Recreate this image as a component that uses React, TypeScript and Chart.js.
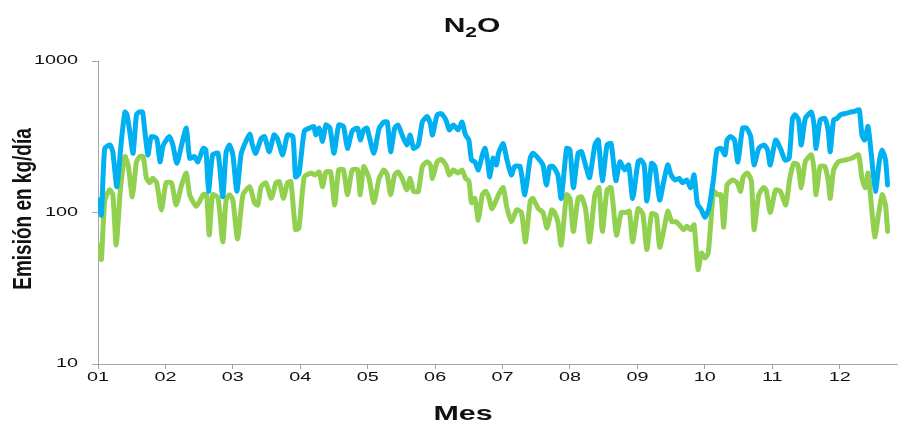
import React, { useEffect, useRef } from 'react';
import { Chart, registerables } from 'chart.js';

Chart.register(...registerables);

const chartTitle = 'N₂O';
const xTitle = 'Mes';
const yTitle = 'Emisión en kg/día';
const monthTickValues = [1, 2, 3, 4, 5, 6, 7, 8, 9, 10, 11, 12];
const monthTickLabels = ['01', '02', '03', '04', '05', '06', '07', '08', '09', '10', '11', '12'];
const yTickValues = [10, 100, 1000];
const yTickLabels = ['10', '100', '1000'];

// blue series (position in months, kg/día)
const blueMonths = [
  1.02, 1.05, 1.10, 1.18, 1.22, 1.28, 1.35, 1.40, 1.43, 1.47, 1.52, 1.57, 1.61, 1.66, 1.69, 1.74, 1.79, 1.87, 1.92, 1.97,
  2.06, 2.11, 2.17, 2.24, 2.31, 2.36, 2.43, 2.48, 2.56, 2.60, 2.64, 2.70, 2.78, 2.85, 2.90, 2.95,
  3.00, 3.06, 3.12, 3.17, 3.25, 3.29, 3.34, 3.42, 3.47, 3.54, 3.61, 3.66, 3.74, 3.81, 3.89, 3.93, 3.98,
  4.06, 4.13, 4.20, 4.23, 4.28, 4.33, 4.38, 4.44, 4.50, 4.57, 4.64, 4.70, 4.77, 4.85, 4.89, 4.94, 4.99,
  5.09, 5.17, 5.24, 5.29, 5.34, 5.40, 5.45, 5.51, 5.58, 5.63, 5.68, 5.75, 5.81, 5.88, 5.93, 5.96,
  6.03, 6.09, 6.16, 6.21, 6.27, 6.34, 6.40, 6.45, 6.50, 6.54, 6.59, 6.64, 6.70, 6.74, 6.78, 6.81, 6.86, 6.91, 6.94,
  7.01, 7.06, 7.13, 7.18, 7.26, 7.33, 7.41, 7.45, 7.53, 7.60, 7.65, 7.70, 7.75, 7.82, 7.87, 7.95,
  8.00, 8.05, 8.12, 8.17, 8.23, 8.29, 8.37, 8.42, 8.48, 8.55, 8.61, 8.68, 8.74, 8.81, 8.87, 8.93,
  9.01, 9.05, 9.10, 9.14, 9.21, 9.26, 9.33, 9.39, 9.45, 9.50, 9.56, 9.62, 9.67, 9.73, 9.79, 9.84, 9.89, 9.95,
  10.00, 10.06, 10.13, 10.18, 10.24, 10.30, 10.33, 10.38, 10.44, 10.49, 10.56, 10.62, 10.68, 10.73, 10.80, 10.88, 10.93, 10.97,
  11.05, 11.12, 11.19, 11.25, 11.30, 11.34, 11.39, 11.43, 11.49, 11.58, 11.62, 11.65, 11.71, 11.78, 11.83, 11.86, 11.91, 11.96,
  12.01, 12.08, 12.16, 12.22, 12.29, 12.33, 12.37, 12.42, 12.47, 12.53, 12.59, 12.63, 12.68, 12.71,
];
const blueValues = [
  121, 96, 265, 279, 250, 148, 308, 460, 441, 345, 246, 441, 460, 460, 360, 240, 317, 308, 216, 279,
  317, 279, 211, 279, 360, 228, 234, 216, 265, 259, 138, 240, 246, 127, 250, 279,
  240, 138, 240, 279, 330, 279, 246, 308, 317, 252, 325, 308, 240, 325, 317, 172, 180,
  345, 360, 370, 325, 360, 295, 378, 360, 246, 378, 370, 265, 345, 360, 301, 350, 360,
  246, 360, 395, 395, 252, 360, 378, 325, 279, 325, 265, 279, 395, 430, 385, 325,
  441, 450, 408, 351, 378, 351, 395, 325, 301, 222, 216, 191, 240, 265, 216, 172, 228, 206, 246,
  285, 228, 177, 201, 201, 131, 228, 246, 228, 206, 152, 201, 201, 177, 124, 265,
  259, 146, 246, 252, 206, 170, 279, 301, 162, 279, 285, 162, 216, 191, 206, 124,
  216, 222, 206, 119, 211, 201, 121, 160, 206, 177, 164, 168, 157, 164, 146, 177, 114, 104,
  93, 106, 168, 259, 265, 240, 301, 317, 301, 216, 360, 360, 317, 206, 265, 279, 259, 206,
  301, 265, 222, 228, 418, 441, 408, 279, 418, 460, 378, 265, 408, 418, 345, 252, 408, 418,
  441, 450, 460, 465, 475, 325, 301, 370, 240, 138, 222, 259, 222, 152,
];

// green series (position in months, kg/día)
const greenMonths = [
  1.02, 1.05, 1.10, 1.17, 1.22, 1.27, 1.33, 1.40, 1.45, 1.51, 1.57, 1.62, 1.67, 1.72, 1.77, 1.81, 1.87, 1.94,
  2.01, 2.09, 2.16, 2.24, 2.31, 2.36, 2.46, 2.56, 2.61, 2.65, 2.70, 2.78, 2.85, 2.90, 2.95,
  3.00, 3.07, 3.15, 3.25, 3.32, 3.37, 3.42, 3.49, 3.57, 3.64, 3.69, 3.75, 3.81, 3.86, 3.93, 3.98,
  4.06, 4.16, 4.22, 4.28, 4.33, 4.38, 4.45, 4.51, 4.57, 4.64, 4.70, 4.77, 4.85, 4.89, 4.94,
  5.02, 5.09, 5.17, 5.24, 5.29, 5.34, 5.40, 5.45, 5.51, 5.58, 5.63, 5.68, 5.75, 5.81, 5.88, 5.93, 5.96,
  6.03, 6.09, 6.16, 6.21, 6.27, 6.34, 6.40, 6.45, 6.50, 6.54, 6.59, 6.64, 6.70, 6.75, 6.80, 6.84, 6.89, 6.94,
  7.01, 7.06, 7.13, 7.21, 7.28, 7.34, 7.41, 7.45, 7.53, 7.60, 7.66, 7.73, 7.77, 7.82, 7.87, 7.95,
  8.00, 8.05, 8.12, 8.17, 8.23, 8.29, 8.37, 8.43, 8.48, 8.55, 8.61, 8.69, 8.76, 8.83, 8.88, 8.93,
  9.01, 9.08, 9.14, 9.21, 9.28, 9.33, 9.40, 9.45, 9.51, 9.57, 9.62, 9.69, 9.73, 9.79, 9.84, 9.90, 9.95,
  10.00, 10.05, 10.13, 10.19, 10.24, 10.28, 10.33, 10.41, 10.48, 10.53, 10.57, 10.63, 10.69, 10.73, 10.80, 10.87, 10.91, 10.97,
  11.05, 11.12, 11.20, 11.26, 11.32, 11.38, 11.43, 11.49, 11.58, 11.62, 11.65, 11.71, 11.78, 11.83, 11.86, 11.91, 11.98,
  12.08, 12.18, 12.28, 12.33, 12.38, 12.42, 12.47, 12.52, 12.58, 12.63, 12.68, 12.71,
];
const greenValues = [
  61, 49, 119, 141, 131, 61, 138, 234, 201, 127, 216, 234, 234, 168, 157, 168, 157, 104,
  157, 157, 112, 152, 182, 131, 110, 131, 131, 71, 131, 125, 64, 121, 131,
  121, 67, 131, 148, 116, 112, 148, 157, 124, 157, 160, 124, 157, 160, 77, 79,
  172, 182, 177, 185, 148, 185, 185, 112, 191, 191, 131, 191, 191, 131, 201,
  168, 116, 168, 191, 177, 131, 177, 185, 168, 141, 168, 138, 138, 201, 216, 206, 168,
  216, 224, 206, 177, 191, 182, 191, 168, 162, 116, 124, 89, 131, 138, 124, 106, 116, 131,
  146, 110, 87, 104, 100, 64, 119, 124, 106, 100, 79, 104, 100, 87, 61, 131,
  124, 75, 124, 127, 106, 64, 131, 146, 75, 141, 146, 71, 100, 100, 102, 64,
  106, 98, 57, 98, 96, 59, 80, 102, 87, 87, 83, 77, 81, 77, 83, 42, 54,
  50, 54, 138, 131, 131, 80, 152, 164, 157, 138, 172, 182, 162, 77, 131, 146, 141, 100,
  141, 138, 112, 168, 211, 206, 146, 216, 240, 191, 131, 201, 201, 162, 124, 191, 216,
  222, 228, 240, 168, 146, 182, 112, 69, 100, 131, 112, 75,
];

const BLUE = '#00B0F0';
const GREEN = '#92D050';
const AXIS = '#a6a6a6';
const TEXT = '#111111';
const SANS = '"Liberation Sans", Arial, sans-serif';

function stretchedText(
  ctx: CanvasRenderingContext2D,
  text: string,
  x: number,
  y: number,
  sx: number,
  align: CanvasTextAlign,
  baseline: CanvasTextBaseline,
  rotate = 0,
) {
  ctx.save();
  ctx.translate(x, y);
  ctx.scale(sx, 1);
  if (rotate) ctx.rotate(rotate);
  ctx.textAlign = align;
  ctx.textBaseline = baseline;
  ctx.fillText(text, 0, 0);
  ctx.restore();
}

const textPlugin = {
  id: 'stretchedTexts',
  afterDraw(chart: any) {
    const ctx: CanvasRenderingContext2D = chart.ctx;
    const xs = chart.scales.x;
    const ys = chart.scales.y;
    ctx.save();
    ctx.fillStyle = TEXT;

    // tick labels
    ctx.font = `12px ${SANS}`;
    monthTickValues.forEach((v, i) => {
      stretchedText(ctx, monthTickLabels[i], xs.getPixelForValue(v), 378, 1.65, 'center', 'middle');
    });
    yTickValues.forEach((v, i) => {
      stretchedText(ctx, yTickLabels[i], 78, ys.getPixelForValue(v), 1.65, 'right', 'middle');
    });

    // title N₂O with subscript
    const sx = 1.5;
    ctx.font = `bold 20px ${SANS}`;
    const wN = ctx.measureText('N').width * sx;
    const wO = ctx.measureText('O').width * sx;
    ctx.font = `bold 14px ${SANS}`;
    const w2 = ctx.measureText('2').width * sx;
    const total = wN + w2 + wO;
    let cx = 472 - total / 2;
    ctx.font = `bold 20px ${SANS}`;
    stretchedText(ctx, chartTitle.charAt(0), cx, 32, sx, 'left', 'alphabetic');
    cx += wN;
    ctx.font = `bold 14px ${SANS}`;
    stretchedText(ctx, '2', cx, 37, sx, 'left', 'alphabetic');
    cx += w2;
    ctx.font = `bold 20px ${SANS}`;
    stretchedText(ctx, chartTitle.charAt(2), cx, 32, sx, 'left', 'alphabetic');

    // axis titles
    ctx.font = `bold 21px ${SANS}`;
    stretchedText(ctx, xTitle, 463, 420, 1.45, 'center', 'alphabetic');
    ctx.font = `bold 19px ${SANS}`;
    stretchedText(ctx, yTitle, 24, 209, 1.4, 'center', 'middle', -Math.PI / 2);
    ctx.restore();
  },
};

export default function App() {
  const canvasRef = useRef<HTMLCanvasElement | null>(null);

  useEffect(() => {
    if (!canvasRef.current) return;
    const chart = new Chart(canvasRef.current, {
      type: 'line',
      data: {
        datasets: [
          {
            label: 'Serie azul',
            data: blueMonths.map((m, i) => ({ x: m, y: blueValues[i] })),
            borderColor: BLUE,
            backgroundColor: BLUE,
            borderWidth: 5,
            pointRadius: 0,
            tension: 0.2,
            borderJoinStyle: 'round',
            borderCapStyle: 'round',
          },
          {
            label: 'Serie verde',
            data: greenMonths.map((m, i) => ({ x: m, y: greenValues[i] })),
            borderColor: GREEN,
            backgroundColor: GREEN,
            borderWidth: 5,
            pointRadius: 0,
            tension: 0.2,
            borderJoinStyle: 'round',
            borderCapStyle: 'round',
          },
        ],
      },
      options: {
        animation: false,
        responsive: false,
        devicePixelRatio: 1,
        layout: { padding: { top: 61, right: 1, bottom: 0, left: 0 } },
        plugins: {
          legend: { display: false },
          title: { display: false },
          tooltip: { enabled: false },
        },
        scales: {
          x: {
            type: 'linear',
            min: 1,
            max: 12.85,
            afterBuildTicks: (scale: any) => {
              scale.ticks = monthTickValues.map((v) => ({ value: v }));
            },
            afterFit: (scale: any) => {
              scale.height = 60;
            },
            ticks: { display: false },
            grid: {
              display: true,
              drawOnChartArea: false,
              drawTicks: true,
              tickLength: 5,
              color: AXIS,
            },
            border: { display: true, color: AXIS, width: 1 },
          },
          y: {
            type: 'logarithmic',
            min: 10,
            max: 1000,
            afterBuildTicks: (scale: any) => {
              scale.ticks = yTickValues.map((v) => ({ value: v }));
            },
            afterFit: (scale: any) => {
              scale.width = 98;
            },
            ticks: { display: false },
            grid: {
              display: true,
              drawOnChartArea: false,
              drawTicks: true,
              tickLength: 6,
              color: AXIS,
            },
            border: { display: true, color: AXIS, width: 1 },
          },
        },
      },
      plugins: [textPlugin],
    });
    return () => chart.destroy();
  }, []);

  return (
    <div style={{ position: 'absolute', left: 0, top: 0, width: 898, height: 424, background: '#ffffff' }}>
      <canvas ref={canvasRef} width={898} height={424} style={{ display: 'block' }} />
    </div>
  );
}
